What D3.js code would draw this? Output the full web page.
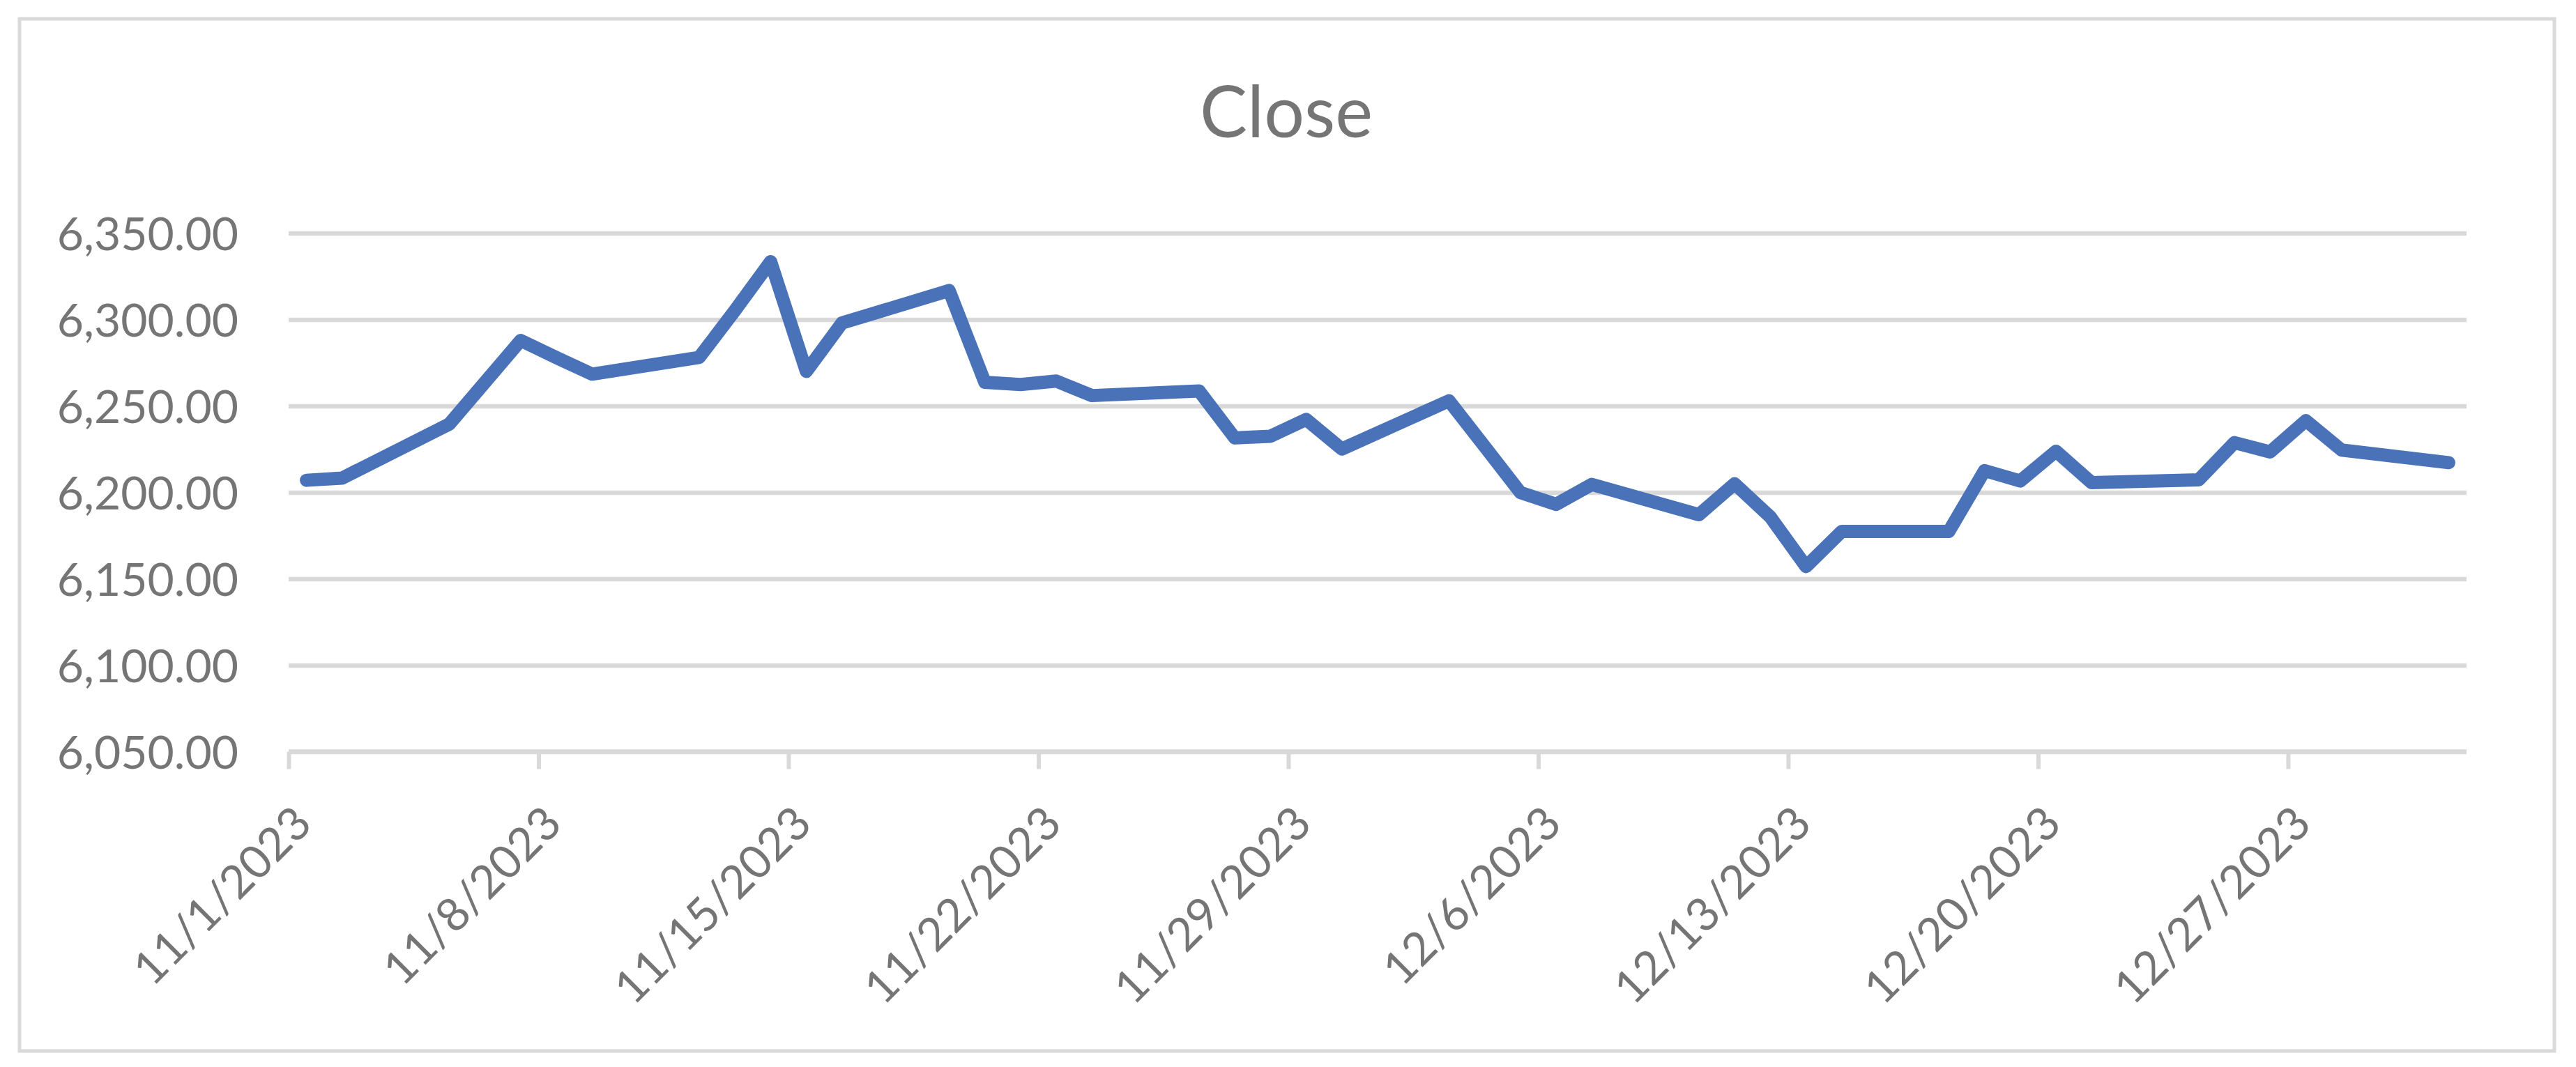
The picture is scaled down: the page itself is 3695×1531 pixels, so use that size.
<!DOCTYPE html>
<html>
<head>
<meta charset="utf-8">
<script src="https://cdn.jsdelivr.net/npm/d3@7"></script>
<style>
  html, body { margin: 0; padding: 0; background: #ffffff; }
  svg { display: block; }
</style>
</head>
<body>
<svg id="chart" width="3695" height="1531"></svg>
<script>
// ---- data ----
const chartTitle = "Close";
const dates = [
  "2023-11-01","2023-11-02","2023-11-05","2023-11-06","2023-11-07","2023-11-08","2023-11-09",
  "2023-11-12","2023-11-13","2023-11-14","2023-11-15","2023-11-16",
  "2023-11-19","2023-11-20","2023-11-21","2023-11-22","2023-11-23",
  "2023-11-26","2023-11-27","2023-11-28","2023-11-29","2023-11-30",
  "2023-12-03","2023-12-04","2023-12-05","2023-12-06","2023-12-07",
  "2023-12-10","2023-12-11","2023-12-12","2023-12-13","2023-12-14",
  "2023-12-17","2023-12-18","2023-12-19","2023-12-20","2023-12-21",
  "2023-12-24","2023-12-25","2023-12-26","2023-12-27","2023-12-28",
  "2023-12-31"
];
const closes = [
  6207.0, 6208.3, 6239.5, 6263.7, 6287.9, 6278.0, 6268.4,
  6278.1, 6305.2, 6333.5, 6270.0, 6298.0,
  6316.8, 6263.7, 6262.4, 6264.4, 6256.0,
  6258.7, 6231.5, 6232.5, 6242.2, 6225.1,
  6253.0, 6226.5, 6199.9, 6193.1, 6204.6,
  6187.1, 6205.0, 6185.8, 6157.1, 6177.4,
  6177.4, 6212.6, 6206.6, 6223.8, 6205.6,
  6207.3, 6228.8, 6223.4, 6241.5, 6224.5,
  6217.2
];
const yTicks = [6050, 6100, 6150, 6200, 6250, 6300, 6350];
const xTickLabels = ["11/1/2023","11/8/2023","11/15/2023","11/22/2023","11/29/2023","12/6/2023","12/13/2023","12/20/2023","12/27/2023"];
const xDomain = ["2023-11-01", "2024-01-01"];

// ---- layout ----
const W = 3695, H = 1531;
const plotL = 414, plotR = 3538, plotT = 334.5, plotB = 1078.5;
const gridColor = "#d9d9d9";
const textColor = "#757575";
const lineColor = "#4a72b8";
const font = "Lato, 'Open Sans', 'Liberation Sans', sans-serif";

const parse = d3.utcParse("%Y-%m-%d");
const fmtTick = d3.utcFormat("%-m/%-d/%Y");
const svg = d3.select("#chart");

const x = d3.scaleUtc().domain(xDomain.map(parse)).range([plotL, plotR]);
const y = d3.scaleLinear().domain([yTicks[0], yTicks[yTicks.length - 1]]).range([plotB, plotT]);

// chart border
svg.append("rect")
  .attr("x", 28).attr("y", 27).attr("width", 3636).attr("height", 1481)
  .attr("fill", "#ffffff").attr("stroke", gridColor).attr("stroke-width", 5);

// title
svg.append("text")
  .attr("x", 1845).attr("y", 197)
  .attr("text-anchor", "middle")
  .attr("font-family", font).attr("font-size", 102)
  .attr("fill", textColor)
  .text(chartTitle);

// y gridlines + labels
const yAxis = d3.axisLeft(y).tickValues(yTicks).tickSize(-(plotR - plotL)).tickPadding(72)
  .tickFormat(d3.format(",.2f"));
const gy = svg.append("g").attr("transform", `translate(${plotL},0)`).call(yAxis);
gy.select(".domain").remove();
gy.selectAll(".tick line").attr("stroke", gridColor).attr("stroke-width", 6.5);
gy.selectAll(".tick text")
  .attr("font-family", font).attr("font-size", 66).attr("fill", textColor)
  .attr("dy", "0.36em");

// x axis: ticks every 7 days from 11/1
const tickDates = xTickLabels.map(s => d3.utcParse("%m/%d/%Y")(s));
const xAxis = d3.axisBottom(x).tickValues(tickDates).tickSize(25).tickFormat(fmtTick);
const gx = svg.append("g").attr("transform", `translate(0,${plotB})`).call(xAxis);
gx.select(".domain").attr("stroke", gridColor).attr("stroke-width", 6.5)
  .attr("d", `M${plotL},0H${plotR}`);
gx.selectAll(".tick line").attr("stroke", gridColor).attr("stroke-width", 6);
gx.selectAll(".tick text")
  .attr("font-family", font).attr("font-size", 66).attr("fill", textColor)
  .attr("text-anchor", "end")
  .attr("y", 0).attr("dy", 0)
  .attr("transform", "translate(36,107) rotate(-45)");

// line (points at centre of each day)
const pts = dates.map((d, i) => ({ date: d3.utcHour.offset(parse(d), 12), v: closes[i] }));
const line = d3.line().x(d => x(d.date)).y(d => y(d.v));
svg.append("path")
  .datum(pts)
  .attr("d", line)
  .attr("fill", "none")
  .attr("stroke", lineColor)
  .attr("stroke-width", 19)
  .attr("stroke-linejoin", "round")
  .attr("stroke-linecap", "round");
</script>
</body>
</html>
